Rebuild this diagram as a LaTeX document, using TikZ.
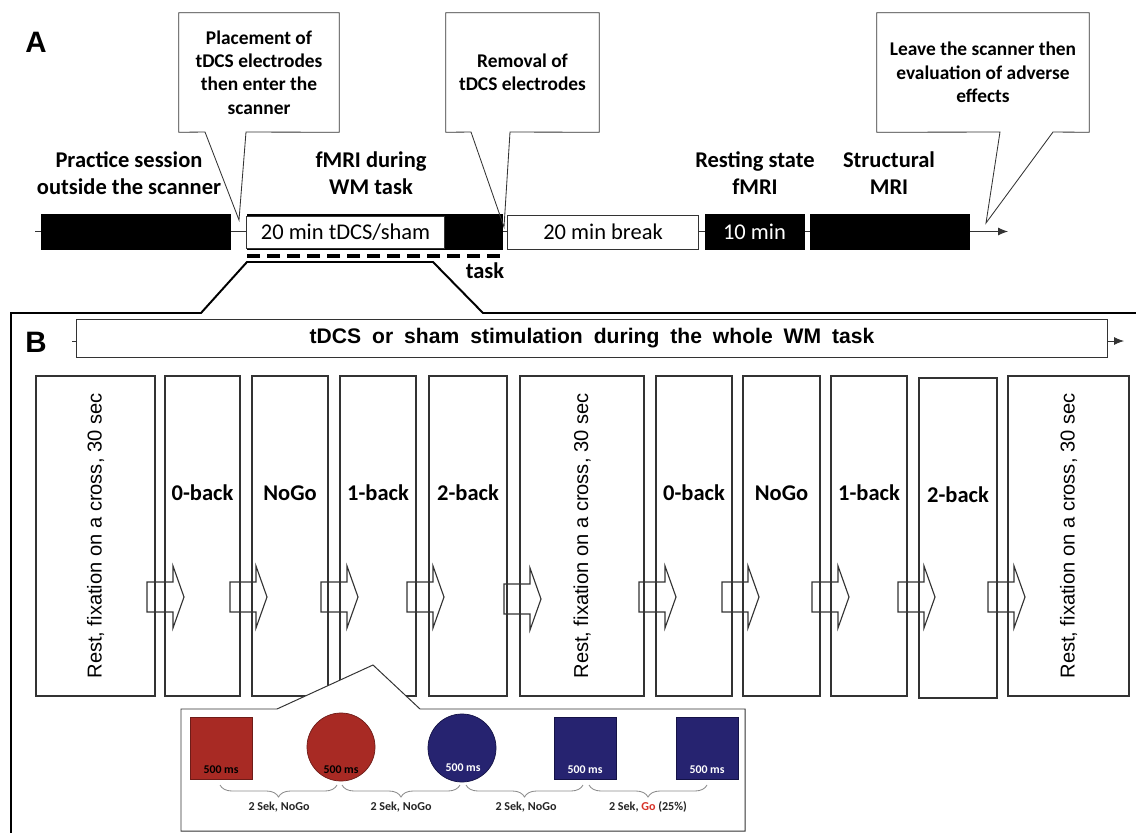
\documentclass[tikz,border=0pt]{standalone}
\usepackage{fontspec}
\setmainfont{Carlito}
\newfontfamily\arialfont{Liberation Sans}
\usepackage{tikz}
\usetikzlibrary{arrows.meta, decorations.pathreplacing, calc}
\definecolor{stim-red}{RGB}{168,42,36}
\definecolor{stim-redline}{RGB}{110,28,24}
\definecolor{stim-blue}{RGB}{38,35,112}
\definecolor{stim-blueline}{RGB}{20,18,70}
\definecolor{brace-gray}{RGB}{140,140,140}
\definecolor{go-red}{RGB}{215,50,40}

% wide word gaps for the stimulation bar
\newcommand{\widewords}{\spaceskip=0.52em\relax}

% block arrow between two task blocks (left x, centre y)
\newcommand{\blockarrow}[2]{%
  \draw[blockline] (#1,#2-15) -- (#1+26,#2-15) -- (#1+26,#2-31) -- (#1+37,#2)
    -- (#1+26,#2+31) -- (#1+26,#2+15) -- (#1,#2+15) -- cycle;}

\begin{document}
\begin{tikzpicture}[
  x=0.025cm, y=-0.025cm,
  phase/.style={draw=black, fill=black, minimum height=0.875cm, inner sep=0},
  openphase/.style={draw=black!80, fill=white, line width=0.7pt, minimum height=0.85cm, inner sep=0, font=\fontsize{16}{19}\selectfont},
  callout/.style={align=center, font=\bfseries\fontsize{13.8}{16.7}\selectfont, minimum height=2.975cm, inner sep=0},
  calline/.style={draw=black!80, line width=0.6pt},
  head/.style={align=center, font=\bfseries\fontsize{16}{19.2}\selectfont},
  panel/.style={font=\arialfont\bfseries\fontsize{21}{25}\selectfont},
  block/.style={draw=black!80, line width=0.8pt, minimum height=8cm, inner sep=0},
  restblock/.style={draw=black!80, line width=0.8pt, rotate=90, minimum width=8cm, inner sep=0, font=\arialfont\fontsize{14.3}{17}\selectfont},
  blocklbl/.style={font=\bfseries\fontsize{16}{19}\selectfont},
  blockline/.style={draw=black!80, fill=white, line width=0.8pt},
  stimbar/.style={draw=black!80, fill=white, line width=0.7pt, inner sep=0, font=\arialfont\bfseries\fontsize{15}{18}\selectfont\widewords},
  stimsq/.style={minimum size=1.55cm, inner sep=0, line width=0.5pt},
  stimci/.style={circle, minimum size=1.7cm, inner sep=0, line width=0.5pt},
  ms/.style={font=\bfseries\fontsize{8.4}{10}\selectfont},
  sek/.style={font=\bfseries\fontsize{8.6}{10}\selectfont, text=black!85},
  sekbrace/.style={draw=brace-gray, line width=0.6pt, decorate, decoration={brace, mirror, amplitude=0.3cm}},
]
  \useasboundingbox (0,0) rectangle (1136,833);

  % A: session timeline
  \node[panel] (lblA) at (36,42) {A};
  \coordinate (tstart) at (35,231.5);
  \coordinate (tend) at (1008,231.5);
  \draw[-{Latex[length=0.25cm,width=0.2cm]}, line width=0.6pt, black!80] (tstart) -- (tend);

  \node[phase, minimum width=4.725cm] (practice) at (135.5,231.5) {};
  \node[phase, minimum width=6.375cm] (fmri) at (374.5,231.5) {};
  \node[openphase, minimum width=4.925cm, minimum height=0.8cm] (tdcs) at (345.5,232) {20 min tDCS/sham};
  \node[openphase, minimum width=4.75cm] (break) at (603,232) {20 min break};
  \node[phase, minimum width=2.475cm, text=white, font=\fontsize{16}{19}\selectfont] (resting) at (754.5,231.5) {10 min};
  \node[phase, minimum width=3.975cm] (structural) at (889.5,231.5) {};

  \node[head] (practicelbl) at (129,173.5) {Practice session\\outside the scanner};
  \node[head] (fmrilbl) at (371,173.5) {fMRI during\\WM task};
  \node[head] (restinglbl) at (755,173.5) {Resting state\\fMRI};
  \node[head] (structurallbl) at (889,173.5) {Structural\\MRI};

  % Callouts
  \node[callout, minimum width=4cm] (placement) at (259,72.5) {Placement of\\tDCS electrodes\\then enter the\\scanner};
  \coordinate (placementtip) at (239,220);
  \draw[calline] (placement.south west) -- (placement.north west) -- (placement.north east) -- (placement.south east)
    -- (246,132) -- (placementtip) -- (205,132) -- cycle;

  \node[callout, minimum width=3.825cm] (removal) at (522.5,72.5) {Removal of\\tDCS electrodes};
  \coordinate (removaltip) at (504,227);
  \draw[calline] (removal.south west) -- (removal.north west) -- (removal.north east) -- (removal.south east)
    -- (510,132) -- (removaltip) -- (471,132) -- cycle;

  \node[callout, minimum width=5.3cm] (leave) at (983,72.5) {Leave the scanner then\\evaluation of adverse\\effects};
  \coordinate (leavetip) at (986,223);
  \draw[calline] (leave.south west) -- (leave.north west) -- (leave.north east) -- (leave.south east)
    -- (1053,132) -- (leavetip) -- (1000,132) -- cycle;

  % Task marker and zoom frame
  \draw[line width=2.8pt, dash pattern=on 0.325cm off 0.175cm] (247,256) -- (505,256);
  \node[head] (tasklbl) at (485,271) {task};
  \draw[line width=1.4pt] (11,834) -- (11,313) -- (201,313) -- (247,262) -- (433,262) -- (483,313) -- (1137,313);

  % B: WM task blocks
  \node[panel] (lblB) at (36,342) {B};
  \coordinate (stimstart) at (72,341);
  \coordinate (stimend) at (1124,341);
  \draw[-{Latex[length=0.25cm,width=0.2cm]}, line width=0.6pt, black!80] (stimstart) -- (stimend);
  \node[stimbar, minimum width=25.75cm, minimum height=0.95cm] (stim) at (592,338)
    {tDCS or sham stimulation during the whole WM task};

  \blockarrow{147}{597}
  \blockarrow{230}{597}
  \blockarrow{321}{597}
  \blockarrow{407}{597}
  \blockarrow{504}{599}
  \blockarrow{639}{597}
  \blockarrow{722}{597}
  \blockarrow{812}{597}
  \blockarrow{898}{597}
  \blockarrow{988}{597}

  \node[restblock, minimum height=2.975cm] (rest1) at (95.5,536) {Rest, fixation on a cross, 30 sec};
  \node[block, minimum width=1.875cm] (zero1) at (202.5,536) {};
  \node[block, minimum width=1.9cm] (nogo1) at (290,536) {};
  \node[block, minimum width=1.9cm] (one1) at (378,536) {};
  \node[block, minimum width=1.95cm] (two1) at (468,536) {};
  \node[restblock, minimum height=3.1cm] (rest2) at (582,536) {Rest, fixation on a cross, 30 sec};
  \node[block, minimum width=1.9cm] (zero2) at (694,536) {};
  \node[block, minimum width=1.925cm] (nogo2) at (781.5,536) {};
  \node[block, minimum width=1.9cm] (one2) at (869,536) {};
  \node[block, minimum width=1.95cm] (two2) at (958,538) {};
  \node[restblock, minimum height=3.025cm] (rest3) at (1068.5,536) {Rest, fixation on a cross, 30 sec};

  \node[blocklbl] (zero1lbl) at (202.5,493) {0-back};
  \node[blocklbl] (nogo1lbl) at (290,493) {NoGo};
  \node[blocklbl] (one1lbl) at (378,493) {1-back};
  \node[blocklbl] (two1lbl) at (468,493) {2-back};
  \node[blocklbl] (zero2lbl) at (694,493) {0-back};
  \node[blocklbl] (nogo2lbl) at (781.5,493) {NoGo};
  \node[blocklbl] (one2lbl) at (869,493) {1-back};
  \node[blocklbl] (two2lbl) at (958,495) {2-back};

  % NoGo trial sequence
  \draw[draw=black!80, fill=white, line width=0.7pt] (181,831) -- (181,709) -- (277,709) -- (373,665) -- (420,709)
    -- (745,709) -- (745,831) -- cycle;

  \node[stimsq, draw=stim-redline, fill=stim-red] (redsq) at (221,748) {};
  \node[stimci, draw=stim-redline, fill=stim-red] (redci) at (341,747) {};
  \node[stimci, draw=stim-blueline, fill=stim-blue] (blueci) at (462,748) {};
  \node[stimsq, draw=stim-blueline, fill=stim-blue] (bluesq1) at (585,748) {};
  \node[stimsq, draw=stim-blueline, fill=stim-blue] (bluesq2) at (707,748) {};

  \node[ms] (redsqms) at (221,770) {500 ms};
  \node[ms] (redcims) at (341,770) {500 ms};
  \node[ms, text=white] (bluecims) at (463,768) {500 ms};
  \node[ms, text=white] (bluesq1ms) at (585,770) {500 ms};
  \node[ms, text=white] (bluesq2ms) at (707,770) {500 ms};

  \draw[sekbrace] (220,785) -- (337,785);
  \draw[sekbrace] (342,785) -- (460,785);
  \draw[sekbrace] (466,785) -- (583,785);
  \draw[sekbrace] (589,785) -- (707,785);
  \node[sek] (sek1) at (279,807) {2 Sek, NoGo};
  \node[sek] (sek2) at (401,807) {2 Sek, NoGo};
  \node[sek] (sek3) at (526,807) {2 Sek, NoGo};
  \node[sek] (sek4) at (648,807) {2 Sek, \textcolor{go-red}{Go} (25\%)};
\end{tikzpicture}
\end{document}
